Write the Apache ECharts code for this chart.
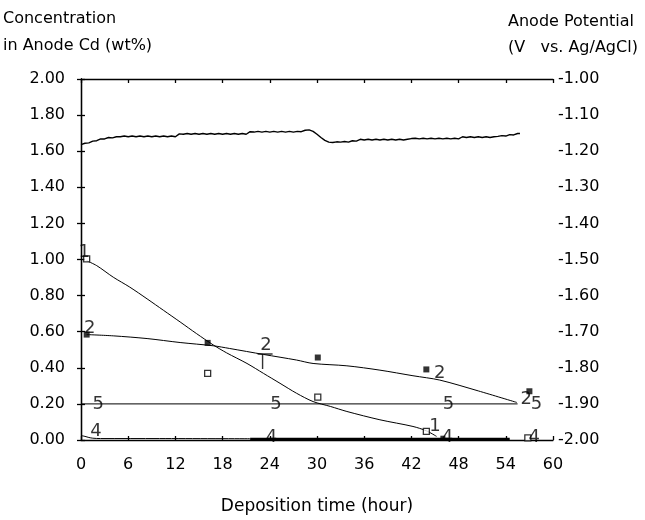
<!DOCTYPE html>
<html><head><meta charset="utf-8">
<script src="https://cdn.jsdelivr.net/npm/echarts@6/dist/echarts.min.js"></script>
<style>html,body{margin:0;padding:0;background:#fff}#c{width:645px;height:520px}</style>
</head><body><div id="c"></div>
<script>
// ---- data ----
var xTicks = [0, 6, 12, 18, 24, 30, 36, 42, 48, 54, 60];
var leftTicks = [0, 0.2, 0.4, 0.6, 0.8, 1.0, 1.2, 1.4, 1.6, 1.8, 2.0];
var rightTicks = [-2.0, -1.9, -1.8, -1.7, -1.6, -1.5, -1.4, -1.3, -1.2, -1.1, -1.0];

// anode potential (V vs Ag/AgCl), right axis
var potTime = [0,0.5,1,1.5,2,2.5,3,3.5,4,4.5,5,5.5,6,6.5,7,7.5,8,8.5,9,9.5,10,10.5,11,11.5,12,12.5,13,13.5,14,14.5,15,15.5,16,16.5,17,17.5,18,18.5,19,19.5,20,20.5,21,21.5,22,22.5,23,23.5,24,24.5,25,25.5,26,26.5,27,27.5,28,28.5,29,29.5,30,30.5,31,31.5,32,32.5,33,33.5,34,34.5,35,35.5,36,36.5,37,37.5,38,38.5,39,39.5,40,40.5,41,41.5,42,42.5,43,43.5,44,44.5,45,45.5,46,46.5,47,47.5,48,48.5,49,49.5,50,50.5,51,51.5,52,52.5,53,53.5,54,54.5,55,55.5,55.8];
var potValue = [-1.182,-1.178,-1.177,-1.172,-1.171,-1.166,-1.166,-1.162,-1.163,-1.160,-1.160,-1.158,-1.160,-1.158,-1.160,-1.158,-1.160,-1.158,-1.160,-1.158,-1.160,-1.158,-1.160,-1.158,-1.160,-1.152,-1.153,-1.151,-1.153,-1.151,-1.153,-1.151,-1.153,-1.151,-1.153,-1.151,-1.153,-1.151,-1.153,-1.151,-1.153,-1.151,-1.153,-1.146,-1.147,-1.145,-1.147,-1.145,-1.147,-1.145,-1.147,-1.145,-1.147,-1.145,-1.147,-1.145,-1.146,-1.142,-1.141,-1.145,-1.153,-1.162,-1.170,-1.175,-1.176,-1.174,-1.175,-1.173,-1.175,-1.171,-1.172,-1.167,-1.169,-1.167,-1.169,-1.167,-1.169,-1.167,-1.169,-1.167,-1.169,-1.167,-1.169,-1.167,-1.165,-1.164,-1.166,-1.164,-1.166,-1.164,-1.166,-1.164,-1.166,-1.164,-1.166,-1.164,-1.166,-1.160,-1.162,-1.160,-1.162,-1.160,-1.162,-1.160,-1.162,-1.160,-1.159,-1.157,-1.158,-1.154,-1.155,-1.151,-1.151];

// curve 1 (fit) and its measured points (open squares)
var curve1Time  = [0.72, 2.0, 4.1, 6.2, 8.4, 10.5, 12.6, 14.7, 16.8, 18.5, 21.1, 23.2, 25.3, 27.4, 29.5, 31.7, 33.8, 38.0, 42.2, 43.9, 45.2];
var curve1Value = [0.993, 0.966, 0.902, 0.847, 0.782, 0.718, 0.654, 0.589, 0.527, 0.483, 0.424, 0.369, 0.314, 0.259, 0.213, 0.186, 0.158, 0.112, 0.075, 0.051, 0.020];
var pts1Time  = [0.72, 16.1, 30.1, 43.9, 56.8];
var pts1Value = [1.003, 0.369, 0.237, 0.048, 0.012];

// curve 2 (fit) and its measured points (filled squares)
var curve2Time  = [0.72, 4.1, 8.4, 12.6, 16.8, 18.9, 23.2, 27.4, 29.5, 33.8, 38.0, 42.2, 45.6, 50.5, 55.4];
var curve2Value = [0.584, 0.577, 0.562, 0.540, 0.522, 0.507, 0.474, 0.443, 0.424, 0.411, 0.387, 0.356, 0.332, 0.272, 0.208];
var pts2Time  = [0.72, 16.1, 30.1, 43.9, 57.0];
var pts2Value = [0.584, 0.538, 0.457, 0.391, 0.27];

// line 5 and line 4
var line5Time  = [0, 55.5];
var line5Value = [0.20, 0.20];
var line4Time  = [0, 0.5, 1, 1.5, 2.5, 10, 21.5];
var line4Value = [0.025, 0.020, 0.014, 0.010, 0.008, 0.008, 0.007];
var line4BoldTime  = [21.5, 54.5];
var line4BoldValue = [0.004, 0.004];
var pts4Time  = [46.0];
var pts4Value = [0.010];

// curve number labels
var labelText  = ['1', '1', '2', '2', '2', '2', '5', '5', '5', '5', '4', '4', '4', '4'];
var labelTime  = [0.4, 45.0, 1.1, 23.5, 45.6, 56.6, 2.2, 24.8, 46.7, 57.9, 1.9, 24.2, 46.6, 57.6];
var labelValue = [1.04, 0.077, 0.617, 0.525, 0.37, 0.225, 0.20, 0.20, 0.20, 0.20, 0.05, 0.017, 0.017, 0.017];

// cursor-like mark on curve 2
var markTime = [23.4];
var markValue = [0.474];

function pairs(xs, ys) { return xs.map(function (x, i) { return [x, ys[i]]; }); }

var FONT = 'DejaVu Sans';
var chart = echarts.init(document.getElementById('c'), null, {renderer: 'canvas'});
var axisCommon = {
  axisLine: {show: true, lineStyle: {color: '#000', width: 1.3}},
  axisTick: {show: true, inside: true, length: 4, lineStyle: {color: '#000', width: 1.3}},
  splitLine: {show: false}
};
chart.setOption({
  animation: false,
  backgroundColor: '#fff',
  title: [
    {text: 'Concentration\nin Anode Cd (wt%)', left: 3, top: 5, padding: 0,
     textStyle: {fontFamily: FONT, fontSize: 16, fontWeight: 'normal', color: '#000', lineHeight: 27}},
    {text: 'Anode Potential\n(V   vs. Ag/AgCl)', left: 508, top: 9, padding: 0,
     textStyle: {fontFamily: FONT, fontSize: 16, fontWeight: 'normal', color: '#000', lineHeight: 26}}
  ],
  grid: {left: 81, right: 92, top: 79, bottom: 78, containLabel: false},
  xAxis: [
    Object.assign({type: 'value', min: 0, max: 60, interval: 6, position: 'bottom',
      name: 'Deposition time (hour)', nameLocation: 'middle', nameGap: 58,
      nameTextStyle: {fontFamily: FONT, fontSize: 17, color: '#000'},
      axisLabel: {fontFamily: FONT, fontSize: 16, color: '#000', margin: 17,
        formatter: function (v) { return xTicks.indexOf(v) >= 0 ? String(v) : ''; }}}, axisCommon),
    Object.assign({type: 'value', min: 0, max: 60, interval: 6, position: 'top',
      axisLabel: {show: false}}, axisCommon)
  ],
  yAxis: [
    Object.assign({type: 'value', min: 0, max: 2, interval: 0.2, position: 'left',
      axisLabel: {fontFamily: FONT, fontSize: 16, color: '#000', margin: 16,
        formatter: function (v) { return v.toFixed(2); }}}, axisCommon),
    Object.assign({type: 'value', min: -2, max: -1, interval: 0.1, position: 'right',
      axisLabel: {fontFamily: FONT, fontSize: 16, color: '#000', margin: 5,
        formatter: function (v) { return v.toFixed(2); }}}, axisCommon)
  ],
  series: [
    {type: 'line', yAxisIndex: 1, data: pairs(potTime, potValue), showSymbol: false,
     lineStyle: {color: '#000', width: 1.4}},
    {type: 'line', data: pairs(curve1Time, curve1Value), smooth: 0.3, showSymbol: false,
     lineStyle: {color: '#000', width: 1}},
    {type: 'line', data: pairs(curve2Time, curve2Value), smooth: 0.3, showSymbol: false,
     lineStyle: {color: '#000', width: 1}},
    {type: 'line', data: pairs(line5Time, line5Value), showSymbol: false,
     lineStyle: {color: '#000', width: 1}},
    {type: 'line', data: pairs(line4Time, line4Value), smooth: 0.3, showSymbol: false,
     lineStyle: {color: '#000', width: 1}},
    {type: 'line', data: pairs(line4BoldTime, line4BoldValue), showSymbol: false,
     lineStyle: {color: '#000', width: 3}},
    {type: 'scatter', data: pairs(pts1Time, pts1Value), symbol: 'rect', symbolSize: 6,
     itemStyle: {color: '#fff', borderColor: '#000', borderWidth: 1.3}, z: 5},
    {type: 'scatter', data: pairs(pts2Time, pts2Value), symbol: 'rect', symbolSize: 6,
     itemStyle: {color: '#000'}, z: 5},
    {type: 'scatter', data: pairs(pts4Time, pts4Value), symbol: 'rect', symbolSize: 5,
     itemStyle: {color: '#000'}, z: 5},
    {type: 'scatter', data: pairs(markTime, markValue),
     symbol: 'path://M0,0 L12,0 M4,0 L4,12', symbolKeepAspect: true, symbolSize: [15, 15], symbolOffset: [0, 7],
     itemStyle: {color: 'none', borderColor: '#000', borderWidth: 1.4}, z: 5},
    {type: 'scatter', symbolSize: 0, z: 6,
     data: labelTime.map(function (t, i) { return {value: [t, labelValue[i]], name: labelText[i]}; }),
     label: {show: true, position: 'inside', formatter: '{b}', fontFamily: FONT, fontSize: 18, color: '#000'}}
  ]
});
</script>
</body></html>
